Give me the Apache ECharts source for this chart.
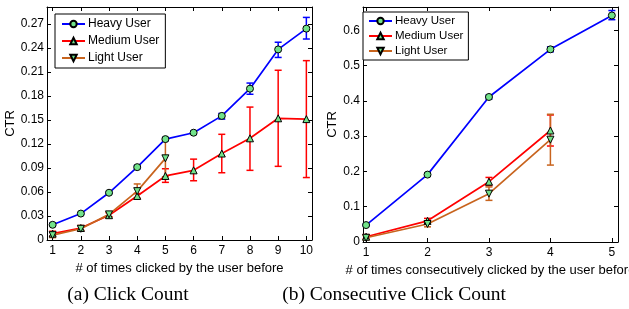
<!DOCTYPE html>
<html>
<head>
<meta charset="utf-8">
<script src="https://cdn.jsdelivr.net/npm/echarts@6/dist/echarts.min.js"></script>
<style>
  html, body { margin: 0; padding: 0; background: #fff; }
  #chart { width: 629px; height: 309px; }
</style>
</head>
<body>
<div id="chart"></div>
<script>
// ---- data: (a) click count ----
var xA = [1, 2, 3, 4, 5, 6, 7, 8, 9, 10];
var heavyA = [0.019, 0.033, 0.059, 0.091, 0.126, 0.134, 0.155, 0.189, 0.238, 0.264];
var heavyLoA = [0.018, 0.032, 0.058, 0.089, 0.124, 0.132, 0.151, 0.182, 0.228, 0.251];
var heavyHiA = [0.021, 0.034, 0.060, 0.093, 0.128, 0.136, 0.158, 0.196, 0.247, 0.278];
var mediumA = [0.008, 0.015, 0.031, 0.055, 0.080, 0.087, 0.108, 0.127, 0.152, 0.151];
var mediumLoA = [0.005, 0.012, 0.029, 0.052, 0.072, 0.074, 0.084, 0.087, 0.092, 0.078];
var mediumHiA = [0.011, 0.018, 0.034, 0.058, 0.089, 0.101, 0.132, 0.166, 0.212, 0.224];
var lightA = [0.006, 0.014, 0.032, 0.061, 0.102];
var lightLoA = [0.003, 0.011, 0.029, 0.052, 0.079];
var lightHiA = [0.010, 0.018, 0.035, 0.070, 0.126];
var yTicksA = [0, 0.03, 0.06, 0.09, 0.12, 0.15, 0.18, 0.21, 0.24, 0.27];

// ---- data: (b) consecutive click count ----
var xB = [1, 2, 3, 4, 5];
var heavyB = [0.048, 0.191, 0.411, 0.546, 0.642];
var heavyLoB = [0.045, 0.187, 0.405, 0.539, 0.630];
var heavyHiB = [0.051, 0.195, 0.416, 0.553, 0.656];
var mediumB = [0.015, 0.060, 0.171, 0.316];
var mediumLoB = [0.009, 0.053, 0.160, 0.272];
var mediumHiB = [0.021, 0.067, 0.183, 0.360];
var lightB = [0.012, 0.051, 0.137, 0.290];
var lightLoB = [0.006, 0.043, 0.118, 0.218];
var lightHiB = [0.018, 0.059, 0.156, 0.362];
var yTicksB = [0, 0.1, 0.2, 0.3, 0.4, 0.5, 0.6];

var names = ['Heavy User', 'Medium User', 'Light User'];
var BLUE = '#0000ff', RED = '#ff0000', BROWN = '#c8641e', MARK = '#72e38a';
var FONT = 'Liberation Sans';

function pairs(xs, ys) {
    var out = [];
    for (var i = 0; i < ys.length; i++) out.push([xs[i], ys[i]]);
    return out;
}
function triples(xs, lo, hi) {
    var out = [];
    for (var i = 0; i < lo.length; i++) out.push([xs[i], lo[i], hi[i]]);
    return out;
}

function errRender(color) {
    return function (params, api) {
        var x = api.value(0);
        var p1 = api.coord([x, api.value(1)]);
        var p2 = api.coord([x, api.value(2)]);
        var w = 3.5;
        var st = { stroke: color, lineWidth: 1.5 };
        return {
            type: 'group',
            children: [
                { type: 'line', shape: { x1: p1[0], y1: p1[1], x2: p2[0], y2: p2[1] }, style: st },
                { type: 'line', shape: { x1: p1[0] - w, y1: p1[1], x2: p1[0] + w, y2: p1[1] }, style: st },
                { type: 'line', shape: { x1: p2[0] - w, y1: p2[1], x2: p2[0] + w, y2: p2[1] }, style: st }
            ]
        };
    };
}

function lineSeries(name, color, symbol, rotate, data, gi) {
    return {
        name: name, type: 'line', data: data,
        xAxisIndex: gi * 2, yAxisIndex: gi * 2,
        symbol: symbol, symbolRotate: rotate, symbolSize: 7,
        showAllSymbol: true,
        lineStyle: { color: color, width: 1.7 },
        itemStyle: { color: MARK, borderColor: '#000', borderWidth: 1 },
        z: 3
    };
}
function errSeries(color, data, gi) {
    return {
        type: 'custom', renderItem: errRender(color), data: data,
        xAxisIndex: gi * 2, yAxisIndex: gi * 2,
        encode: { x: 0, y: [1, 2] }, z: 2, silent: true
    };
}

function xAxes(gi, min, max, ticks, nm) {
    var base = {
        gridIndex: gi, type: 'value', min: min, max: max,
        splitLine: { show: false },
        axisLine: { show: true, onZero: false, lineStyle: { color: '#000', width: 1 } },
        axisTick: { show: true, inside: true, length: 4, customValues: ticks, lineStyle: { color: '#000' } }
    };
    return [
        Object.assign({}, base, {
            position: 'bottom',
            name: nm, nameLocation: 'middle', nameGap: 19,
            nameTextStyle: { fontFamily: FONT, fontSize: 13, color: '#000' },
            axisLabel: { show: true, margin: 5, customValues: ticks, fontFamily: FONT, fontSize: 12, color: '#000' }
        }),
        Object.assign({}, base, { position: 'top', axisLabel: { show: false } })
    ];
}
function yAxes(gi, max, ticks, digits, gap) {
    var base = {
        gridIndex: gi, type: 'value', min: 0, max: max,
        splitLine: { show: false },
        axisLine: { show: true, onZero: false, lineStyle: { color: '#000', width: 1 } },
        axisTick: { show: true, inside: true, length: 4, customValues: ticks, lineStyle: { color: '#000' } }
    };
    return [
        Object.assign({}, base, {
            position: 'left',
            name: 'CTR', nameLocation: 'middle', nameGap: gap,
            nameTextStyle: { fontFamily: FONT, fontSize: 13, color: '#000' },
            axisLabel: {
                show: true, margin: 3, customValues: ticks, fontFamily: FONT, fontSize: 12, color: '#000',
                formatter: function (v) { return v === 0 ? '0' : v.toFixed(digits); }
            }
        }),
        Object.assign({}, base, { position: 'right', axisLabel: { show: false } })
    ];
}

var chart = echarts.init(document.getElementById('chart'));
var option = {
    animation: false,
    backgroundColor: '#fff',
    grid: [
        { left: 47, top: 7, width: 265, height: 233, outerBoundsMode: 'none', containLabel: false },
        { left: 363, top: 7, width: 255, height: 235, outerBoundsMode: 'none', containLabel: false }
    ],
    xAxis: xAxes(0, 0.8, 10.2, xA, '# of times clicked by the user before')
        .concat(xAxes(1, 0.95, 5.1, xB, '# of times consecutively clicked by the user before')),
    yAxis: yAxes(0, 0.291, yTicksA, 2, 28).concat(yAxes(1, 0.666, yTicksB, 1, 22)),
    legend: [
        {
            data: names, orient: 'vertical', left: 55, top: 14,
            backgroundColor: '#fff', borderColor: '#000', borderWidth: 1,
            padding: [4, 6, 4, 6], itemGap: 5, itemWidth: 23, itemHeight: 8,
            textStyle: { fontFamily: FONT, fontSize: 12, color: '#000', padding: [0, 0, 0, -2] },
            selectedMode: false
        },
        {
            data: names, orient: 'vertical', left: 363, top: 12,
            backgroundColor: '#fff', borderColor: '#000', borderWidth: 1,
            padding: [3, 5, 3, 5], itemGap: 3, itemWidth: 23, itemHeight: 8,
            textStyle: { fontFamily: FONT, fontSize: 11.5, color: '#000', padding: [0, 0, 0, -2] },
            selectedMode: false
        }
    ],
    graphic: [
        { type: 'text', x: 128, y: 295, style: { text: '(a) Click Count', align: 'center', verticalAlign: 'middle', fontFamily: 'Liberation Serif', fontSize: 19.5, fill: '#000' } },
        { type: 'text', x: 394, y: 295, style: { text: '(b) Consecutive Click Count', align: 'center', verticalAlign: 'middle', fontFamily: 'Liberation Serif', fontSize: 19.5, fill: '#000' } }
    ],
    series: [
        errSeries(BLUE, triples(xA, heavyLoA, heavyHiA), 0),
        lineSeries(names[0], BLUE, 'circle', 0, pairs(xA, heavyA), 0),
        errSeries(RED, triples(xA, mediumLoA, mediumHiA), 0),
        lineSeries(names[1], RED, 'triangle', 0, pairs(xA, mediumA), 0),
        errSeries(BROWN, triples(xA, lightLoA, lightHiA), 0),
        lineSeries(names[2], BROWN, 'triangle', 180, pairs(xA, lightA), 0),

        errSeries(BLUE, triples(xB, heavyLoB, heavyHiB), 1),
        lineSeries(names[0], BLUE, 'circle', 0, pairs(xB, heavyB), 1),
        errSeries(RED, triples(xB, mediumLoB, mediumHiB), 1),
        lineSeries(names[1], RED, 'triangle', 0, pairs(xB, mediumB), 1),
        errSeries(BROWN, triples(xB, lightLoB, lightHiB), 1),
        lineSeries(names[2], BROWN, 'triangle', 180, pairs(xB, lightB), 1)
    ]
};
chart.setOption(option);
</script>
</body>
</html>
